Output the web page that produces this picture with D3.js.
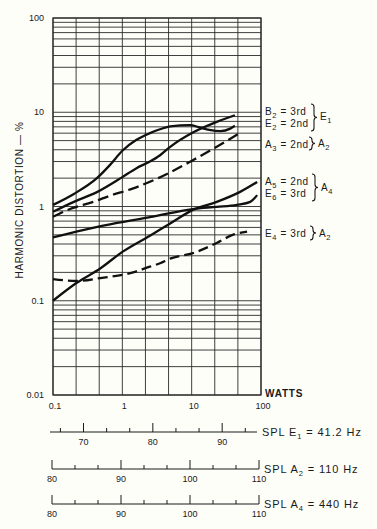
<!DOCTYPE html>
<html>
<head>
<meta charset="utf-8">
<script src="https://cdn.jsdelivr.net/npm/d3@7"></script>
<style>
  html, body { margin: 0; padding: 0; background: #fefef9; }
  svg text { font-family: "Liberation Sans", Arial, sans-serif; fill: #1a1a1a; }
</style>
</head>
<body>
<div id="chart"></div>
<script>
// axis ticks
const wattsTicks = [0.1, 1, 10, 100];
const pctTicks = [0.01, 0.1, 1, 10, 100];
const splE1Major = [70, 80, 90];
const splA2Major = [80, 90, 100, 110];
const splA4Major = [80, 90, 100, 110];

// curves: [watts, harmonic distortion %]
const b2Third = [[0.1, 0.88], [0.2, 1.12], [0.43, 1.42], [1.0, 2.05], [1.6, 2.55], [2.5, 3.0],
  [3.5, 3.5], [4.9, 4.3], [10.4, 6.1], [23, 7.9], [42, 9.3]];
const e2Second = [[0.1, 1.04], [0.2, 1.36], [0.43, 2.0], [0.66, 2.75], [1.0, 3.9], [1.6, 5.1],
  [2.5, 6.0], [3.5, 6.6], [4.9, 7.1], [9.5, 7.3], [13, 6.9], [18, 6.5], [26, 6.3], [36, 6.7], [42, 7.2]];
const a3Second = [[0.1, 0.78], [0.19, 0.96], [0.38, 1.12], [0.66, 1.3], [1.4, 1.55], [3.3, 2.0],
  [10.4, 3.1], [23, 4.3], [53, 6.2]];
const a5Second = [[0.1, 0.1], [0.22, 0.155], [0.48, 0.22], [1.0, 0.33], [2.5, 0.49], [4.9, 0.66],
  [10.4, 0.92], [23, 1.12], [50, 1.43], [88, 1.82]];
const e6Third = [[0.1, 0.47], [0.27, 0.56], [0.84, 0.67], [2.5, 0.77], [10.4, 0.94], [23, 0.99],
  [45, 1.04], [70, 1.12], [88, 1.32]];
const e4Third = [[0.1, 0.17], [0.22, 0.162], [0.48, 0.174], [1.43, 0.2], [2.5, 0.23], [3.5, 0.25],
  [4.9, 0.28], [10.4, 0.32], [23, 0.41], [39, 0.5], [63, 0.54]];

const W = 377, H = 529;
const plotLeft = 53, plotRight = 261, plotTop = 18, plotBottom = 395;

const svg = d3.select("#chart").append("svg")
    .attr("width", W)
    .attr("height", H);

const x = d3.scaleLog().domain([0.1, 100]).range([plotLeft, plotRight]);
const y = d3.scaleLog().domain([0.01, 100]).range([plotBottom, plotTop]);

// grid
const grid = svg.append("g").attr("stroke", "#2a2a2a").attr("stroke-width", 0.9);
const hLines = [];
[0.01, 0.1, 1, 10].forEach(d => d3.range(1, 10).forEach(m => hLines.push(d * m)));
hLines.push(100);
grid.selectAll(".h").data(hLines).enter().append("line")
    .attr("x1", plotLeft).attr("x2", plotRight)
    .attr("y1", d => y(d)).attr("y2", d => y(d));
// vertical lines every third of a decade (matches the SPL scales)
const vLines = d3.range(-3, 7).map(k => Math.pow(10, k / 3));
grid.selectAll(".v").data(vLines).enter().append("line")
    .attr("x1", d => x(d)).attr("x2", d => x(d))
    .attr("y1", plotTop).attr("y2", plotBottom);
grid.append("rect")
    .attr("x", plotLeft).attr("y", plotTop)
    .attr("width", plotRight - plotLeft).attr("height", plotBottom - plotTop)
    .attr("fill", "none").attr("stroke-width", 1.2);

// tick labels
svg.append("g").selectAll("text").data(pctTicks).enter().append("text")
    .attr("x", plotLeft - 9).attr("y", d => y(d) + 3)
    .attr("text-anchor", "end").attr("font-size", 9)
    .text(d => d);
svg.append("g").selectAll("text").data(wattsTicks).enter().append("text")
    .attr("x", d => x(d) + 2).attr("y", plotBottom + 14)
    .attr("text-anchor", "middle").attr("font-size", 9)
    .text(d => d);
svg.append("text").attr("x", 265).attr("y", plotBottom + 2)
    .attr("font-size", 10).attr("font-weight", "bold").attr("letter-spacing", 0.8)
    .text("WATTS");
svg.append("text")
    .attr("transform", "translate(23,200) rotate(-90)")
    .attr("text-anchor", "middle").attr("font-size", 10).attr("letter-spacing", 0.6)
    .text("HARMONIC DISTORTION — %");

// curves
const line = d3.line()
    .x(d => x(d[0]))
    .y(d => y(d[1]))
    .curve(d3.curveMonotoneX);

const curves = [
  { data: b2Third, dash: null },
  { data: e2Second, dash: null },
  { data: a3Second, dash: "11,5" },
  { data: a5Second, dash: null },
  { data: e6Third, dash: null },
  { data: e4Third, dash: "10,5" }
];
svg.append("g").selectAll("path").data(curves).enter().append("path")
    .attr("d", d => line(d.data))
    .attr("fill", "none")
    .attr("stroke", "#111")
    .attr("stroke-width", 2.3)
    .attr("stroke-dasharray", d => d.dash);

// labels on the right
function sub(t, main, s, rest) {
  t.append("tspan").text(main);
  t.append("tspan").attr("font-size", 7.5).attr("dy", 2.5).text(s);
  t.append("tspan").attr("dy", -2.5).text(rest);
}
function brace(x0, y0, y1) {
  const w = 3, m = (y0 + y1) / 2;
  return `M${x0},${y0} Q${x0 + w},${y0} ${x0 + w},${y0 + w} L${x0 + w},${m - w} Q${x0 + w},${m} ${x0 + 2 * w},${m}` +
    ` Q${x0 + w},${m} ${x0 + w},${m + w} L${x0 + w},${y1 - w} Q${x0 + w},${y1} ${x0},${y1}`;
}
const labels = svg.append("g").attr("font-size", 10).attr("letter-spacing", 0.6);
[
  ["B", "2", " = 3rd", 115], ["E", "2", " = 2nd", 127], ["A", "3", " = 2nd", 148],
  ["A", "5", " = 2nd", 185], ["E", "6", " = 3rd", 197], ["E", "4", " = 3rd", 237]
].forEach(l => sub(labels.append("text").attr("x", 265).attr("y", l[3]), l[0], l[1], l[2]));
[[311, 104, 131, "E", "1", 120], [309, 137, 150, "A", "2", 147], [312, 174, 201, "A", "4", 191], [310, 226, 240, "A", "2", 237]]
  .forEach(b => {
    svg.append("path").attr("d", brace(b[0], b[1], b[2]))
        .attr("fill", "none").attr("stroke", "#1a1a1a").attr("stroke-width", 1.1);
    sub(labels.append("text").attr("x", b[0] + 9).attr("y", b[5]), b[3], b[4], "");
  });

// SPL scales under the chart
function splAxis(scale, major, yLine, x0, x1, label, labelSub, labelRest) {
  const g = svg.append("g").attr("stroke", "#1a1a1a").attr("stroke-width", 1);
  g.append("line").attr("x1", x0).attr("x2", x1).attr("y1", yLine).attr("y2", yLine);
  const lo = scale.domain()[0], hi = scale.domain()[1];
  const minor = d3.range(Math.ceil(lo * 3 / 10), Math.floor(hi * 3 / 10) + 1)
      .map(k => k * 10 / 3).filter(v => major.every(m => Math.abs(m - v) > 0.1));
  g.selectAll(".mn").data(minor).enter().append("line")
      .attr("x1", d => scale(d)).attr("x2", d => scale(d))
      .attr("y1", yLine - 4).attr("y2", yLine);
  g.selectAll(".mj").data(major).enter().append("line")
      .attr("x1", d => scale(d)).attr("x2", d => scale(d))
      .attr("y1", yLine - 9).attr("y2", yLine);
  svg.append("g").selectAll("text").data(major).enter().append("text")
      .attr("x", d => scale(d)).attr("y", yLine + 13)
      .attr("text-anchor", "middle").attr("font-size", 9)
      .text(d => d);
  const t = svg.append("text").attr("x", x1 + 5).attr("y", yLine + 4)
      .attr("font-size", 11).attr("letter-spacing", 0.9);
  sub(t, label, labelSub, labelRest);
}

const splE1 = d3.scaleLinear().domain([65.6, 95.6]).range([plotLeft, plotRight]);
const splA2 = d3.scaleLinear().domain([80, 110]).range([52, 259]);
const splA4 = d3.scaleLinear().domain([80, 110]).range([52, 259]);
splAxis(splE1, splE1Major, 432, 50, 257, "SPL  E", "1", " = 41.2 Hz");
splAxis(splA2, splA2Major, 469, 52, 259, "SPL  A", "2", " = 110 Hz");
splAxis(splA4, splA4Major, 504, 52, 259, "SPL  A", "4", " = 440 Hz");
</script>
</body>
</html>
